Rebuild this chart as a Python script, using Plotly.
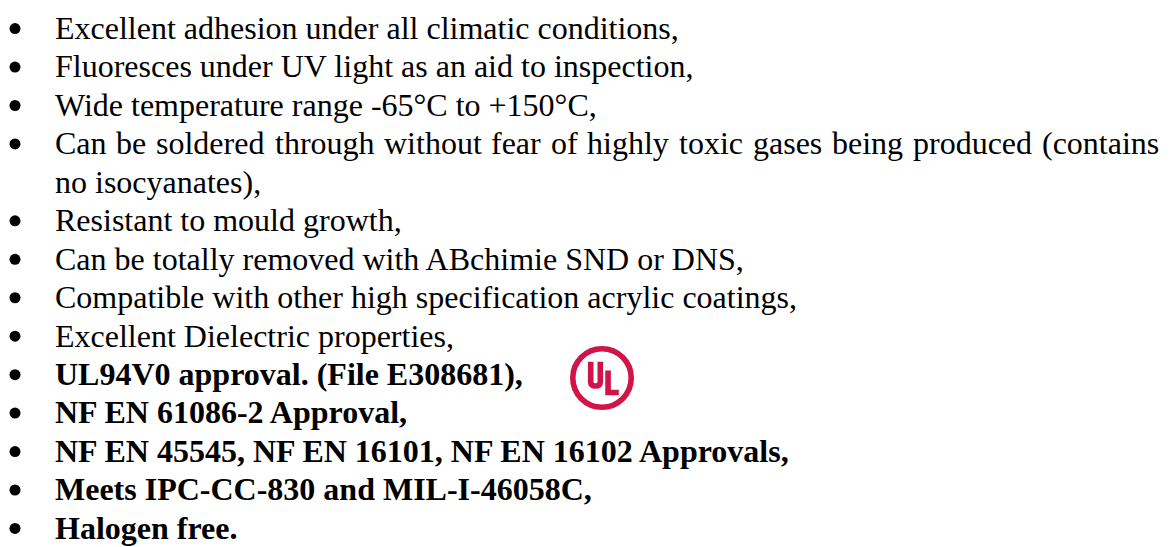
import plotly.graph_objects as go

# ---- content ----
feature_lines = [
    "Excellent adhesion under all climatic conditions,",
    "Fluoresces under UV light as an aid to inspection,",
    "Wide temperature range -65°C to +150°C,",
    "Can be soldered through without fear of highly toxic gases being produced (contains",
    "no isocyanates),",
    "Resistant to mould growth,",
    "Can be totally removed with ABchimie SND or DNS,",
    "Compatible with other high specification acrylic coatings,",
    "Excellent Dielectric properties,",
    "UL94V0 approval. (File E308681),",
    "NF EN 61086-2 Approval,",
    "NF EN 45545, NF EN 16101, NF EN 16102 Approvals,",
    "Meets IPC-CC-830 and MIL-I-46058C,",
    "Halogen free.",
]
bold_flags = [False] * 9 + [True] * 5
bullet_flags = [True, True, True, True, False, True, True, True, True, True, True, True, True, True]
justified_flags = [False, False, False, True] + [False] * 10

# ---- layout constants ----
W, H = 1171, 547
FS = 32
FONT = "Liberation Serif, Times New Roman, serif"
TEXT_X = 55
RIGHT_X = 1159
BASE0 = 37.5
LINE_STEP = 38.45
BULLET_X = 15

# Times-Roman AFM widths (per 1000 em) used to justify the long line
afm = {" ": 250, "C": 667, "a": 444, "b": 500, "c": 444, "d": 500, "e": 444, "f": 333,
       "g": 500, "h": 500, "i": 278, "l": 278, "n": 500, "o": 500, "p": 500, "r": 333,
       "s": 389, "t": 278, "u": 500, "w": 722, "x": 500, "y": 500, "(": 333, "m": 778}


def wwidth(word):
    return sum(afm.get(ch, 500) for ch in word) * FS / 1000.0


fig = go.Figure()

annotations = []
for i, (txt, bold, bul, just) in enumerate(zip(feature_lines, bold_flags, bullet_flags, justified_flags)):
    base = BASE0 + i * LINE_STEP
    ymid = base - 0.30 * FS
    disp = f"<b>{txt}</b>" if bold else txt
    common = dict(xref="x", yref="y", showarrow=False, xanchor="left", yanchor="middle",
                  borderpad=0, borderwidth=0,
                  font=dict(family=FONT, size=FS, color="#000000"))
    if just:
        words = txt.split(" ")
        total = sum(wwidth(w) for w in words)
        gap = (RIGHT_X - TEXT_X - total) / (len(words) - 1)
        x = TEXT_X
        for w in words:
            annotations.append(dict(x=x, y=ymid, text=w, **common))
            x += wwidth(w) + gap
    else:
        annotations.append(dict(x=TEXT_X, y=ymid, text=disp, **common))

bullet_y = [BASE0 + i * LINE_STEP - 8.9 for i, b in enumerate(bullet_flags) if b]
fig.add_trace(go.Scatter(x=[BULLET_X] * len(bullet_y), y=bullet_y, mode="markers",
                         marker=dict(size=11, color="#000000", line=dict(width=0)),
                         hoverinfo="skip", showlegend=False))

# ---- UL logo ----
UL_RED = "#D0144A"
cx, cy = 602.0, 378.0
k = 1.085                      # logo scale
sw = 5.6
r = 29.5 * k - sw / 2
fig.add_shape(type="circle", xref="x", yref="y", x0=cx - r, x1=cx + r, y0=cy - r, y1=cy + r,
              line=dict(color=UL_RED, width=sw), fillcolor="rgba(0,0,0,0)")
# U (raised)
uxl, uxr, uyt, uyb = cx - 13 * k + sw / 2, cx + 1 * k - sw / 2, cy - 15 * k, cy + 10 * k - sw / 2
fig.add_shape(type="path", xref="x", yref="y",
              path=(f"M {uxl} {uyt} L {uxl} {uyb-4} Q {uxl} {uyb} {(uxl+uxr)/2} {uyb} "
                    f"Q {uxr} {uyb} {uxr} {uyb-4} L {uxr} {uyt}"),
              line=dict(color=UL_RED, width=sw))
# L (lowered)
lxl, lxr, lyt, lyb = cx + 3 * k + sw / 2, cx + 15.5 * k, cy - 7 * k, cy + 16 * k - sw / 2
fig.add_shape(type="path", xref="x", yref="y",
              path=f"M {lxl} {lyt} L {lxl} {lyb} L {lxr} {lyb}",
              line=dict(color=UL_RED, width=sw))

fig.update_layout(
    width=W, height=H,
    margin=dict(l=0, r=0, t=0, b=0),
    paper_bgcolor="#ffffff", plot_bgcolor="#ffffff",
    xaxis=dict(range=[0, W], visible=False, fixedrange=True),
    yaxis=dict(range=[H, 0], visible=False, fixedrange=True),
    annotations=annotations,
    showlegend=False,
)

fig.write_html("out.html", config=dict(displayModeBar=False),
               post_script="document.body.style.margin='0';document.body.style.padding='0';"
                           "document.body.style.overflow='hidden';")
